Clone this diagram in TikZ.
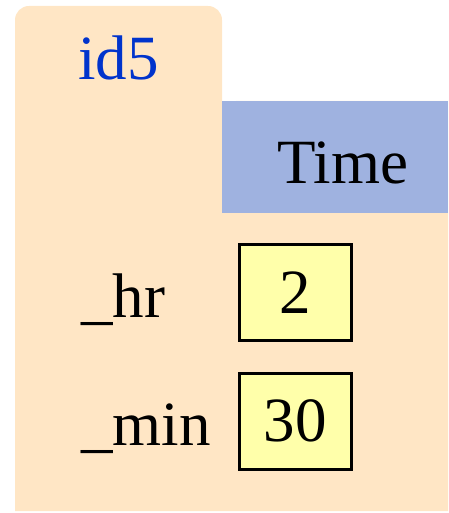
\documentclass[tikz,border=0pt]{standalone}
\usepackage{fontspec}
\setmainfont{Liberation Serif}
\definecolor{folder}{RGB}{255,230,197}
\definecolor{classbar}{RGB}{159,178,224}
\definecolor{cell}{RGB}{255,255,170}
\definecolor{idblue}{RGB}{0,51,204}
\tikzset{
    big/.style={font=\fontsize{63}{70}\selectfont},
    cellbox/.style={draw=black, line width=3pt, fill=cell, minimum width=112pt,
                    minimum height=96pt, inner sep=0pt, big},
}
\begin{document}
\begin{tikzpicture}[x=1pt,y=-1pt]
    \useasboundingbox (0,0) rectangle (448,513);
    \coordinate (T1) at (15,6);
    \coordinate (T2) at (222,6);
    \coordinate (B1) at (15,511);
    \coordinate (B2) at (448,511);
    \coordinate (C1) at (222,101);
    \coordinate (C2) at (448,213);

    \fill[folder, rounded corners=14pt] (B1) -- (T1) -- (T2) -- (222,120) -- (222,101) [sharp corners] -- (448,101) -- (B2) -- cycle;
    \fill[classbar] (C1) rectangle (C2);

    \node[big, text=idblue, anchor=base] (id) at (118.5,80) {id5};
    \node[big, anchor=base] (cls) at (343,183) {Time};

    \node[cellbox] (hr) at (295,292.5) {2};
    \node[cellbox] (min) at (295,421) {30};
    \node[big, anchor=base west, inner sep=0pt] (hrlbl) at (81,317) {\_hr};
    \node[big, anchor=base west, inner sep=0pt] (minlbl) at (81,445) {\_min};
\end{tikzpicture}
\end{document}
